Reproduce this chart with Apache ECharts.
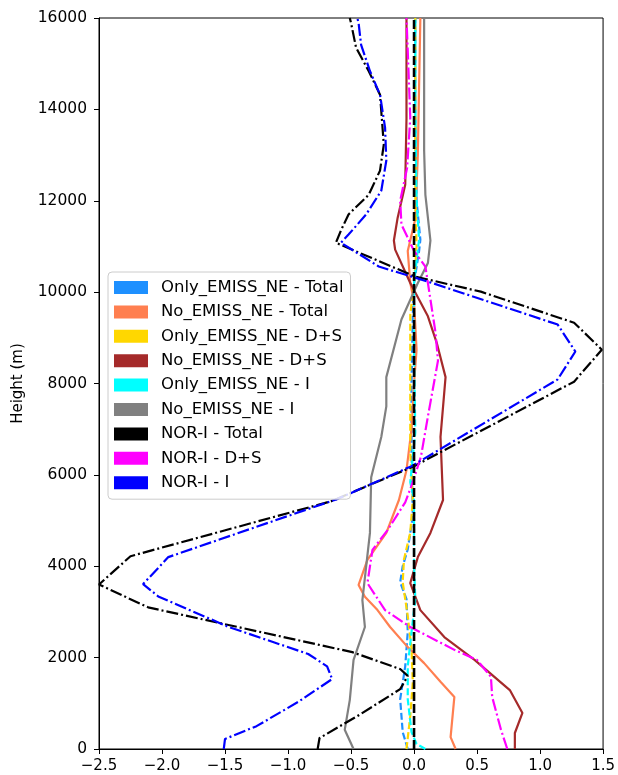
<!DOCTYPE html>
<html>
<head>
<meta charset="utf-8">
<script src="https://cdn.jsdelivr.net/npm/echarts@6/dist/echarts.min.js"></script>
<style>
  html, body { margin: 0; padding: 0; background: #fff; }
  #chart { width: 618px; height: 775px; }
</style>
</head>
<body>
<div id="chart"></div>
<script>
// ---- Data (x = value, h = height in m) ----
const xTicks = [-2.5, -2.0, -1.5, -1.0, -0.5, 0.0, 0.5, 1.0, 1.5];
const yTicks = [0, 2000, 4000, 6000, 8000, 10000, 12000, 14000, 16000];

const onlyTotalH = [0, 370, 1090, 1810, 2560, 3280, 3650, 4000, 4370, 5090, 6500, 8000, 9500, 10200, 10900, 11150, 12000, 14000, 16000];
const onlyTotalX = [-0.05, -0.09, -0.11, -0.07, -0.05, -0.06, -0.11, -0.09, -0.05, -0.01, -0.02, -0.02, -0.01, 0.0, 0.04, 0.05, 0.02, 0.01, 0.01];

const noTotalH = [0, 260, 1140, 1470, 1880, 2230, 2670, 3040, 3330, 3590, 4140, 4730, 5450, 6100, 7000, 8000, 8740, 9800, 10200, 10900, 11600, 13000, 14500, 16000];
const noTotalX = [0.33, 0.29, 0.32, 0.21, 0.08, -0.05, -0.19, -0.29, -0.39, -0.44, -0.37, -0.22, -0.12, -0.06, -0.02, 0.0, 0.02, 0.0, -0.03, -0.05, 0.01, 0.03, 0.04, 0.05];

const onlyDSH = [0, 720, 1460, 2190, 2910, 3650, 4150, 4740, 5450, 6500, 8000, 9500, 10200, 11000, 12000, 14000, 16000];
const onlyDSX = [-0.06, -0.03, -0.01, -0.02, -0.05, -0.09, -0.08, -0.03, -0.01, -0.03, -0.03, -0.03, 0.0, 0.02, 0.01, 0.01, 0.01];

const noDSH = [0, 350, 790, 1290, 1950, 2450, 3040, 3630, 4200, 4730, 5450, 6830, 8140, 8890, 9470, 10200, 10930, 11130, 11630, 12350, 13800, 16000];
const noDSX = [0.80, 0.80, 0.86, 0.76, 0.48, 0.24, 0.05, -0.03, 0.03, 0.13, 0.23, 0.21, 0.25, 0.18, 0.11, -0.03, -0.15, -0.16, -0.13, -0.07, -0.06, -0.06];

const onlyIH = [0, 110, 370, 1090, 1810, 2560, 3280, 4000, 5450, 5840, 6930, 8740, 10200, 10930, 11150, 12020, 14000, 16000];
const onlyIX = [0.09, 0.02, -0.02, -0.05, -0.05, -0.02, 0.01, 0.0, 0.0, -0.03, 0.01, 0.0, 0.0, 0.03, 0.04, 0.02, 0.01, 0.01];

const noIH = [0, 420, 1070, 1950, 2670, 3260, 4730, 5950, 6830, 7500, 8140, 9400, 10200, 10640, 11130, 12130, 13100, 16000];
const noIX = [-0.48, -0.55, -0.51, -0.48, -0.39, -0.41, -0.35, -0.34, -0.26, -0.22, -0.22, -0.10, 0.03, 0.11, 0.13, 0.09, 0.08, 0.08];

const norTotalH = [0, 240, 720, 1310, 1600, 1750, 2120, 3100, 3600, 4220, 5420, 6190, 8040, 8740, 9330, 10010, 10340, 11080, 11350, 11700, 12130, 12660, 13230, 14320, 14840, 15350, 15890, 16000];
const norTotalX = [-0.765, -0.75, -0.45, -0.11, -0.05, -0.11, -0.49, -2.11, -2.50, -2.25, -0.66, 0.0, 1.27, 1.49, 1.27, 0.53, 0.01, -0.62, -0.58, -0.52, -0.36, -0.27, -0.24, -0.27, -0.36, -0.46, -0.50, -0.51];

const norDSH = [0, 420, 1140, 1580, 1950, 2170, 2670, 3040, 3630, 4360, 4790, 5400, 5840, 6400, 7280, 8500, 9120, 9840, 10560, 10900, 11480, 12000, 12720, 13820, 15280, 16000];
const norDSX = [0.74, 0.69, 0.62, 0.61, 0.50, 0.32, -0.03, -0.23, -0.37, -0.33, -0.21, -0.07, -0.01, 0.055, 0.11, 0.19, 0.17, 0.13, 0.09, 0.0, -0.10, -0.11, -0.055, -0.03, -0.05, -0.06];

const norIH = [0, 220, 500, 1030, 1530, 1810, 2080, 2670, 3340, 3610, 4200, 5470, 6190, 8090, 8700, 9290, 10230, 10560, 11080, 11260, 11700, 12220, 12880, 13600, 14320, 14840, 15410, 15890, 16000];
const norIX = [-1.51, -1.50, -1.25, -0.92, -0.65, -0.69, -0.84, -1.47, -2.03, -2.15, -1.95, -0.61, -0.02, 1.14, 1.28, 1.14, 0.11, -0.28, -0.58, -0.52, -0.38, -0.26, -0.22, -0.23, -0.27, -0.35, -0.42, -0.44, -0.45];

const zeroLineH = [0, 16000];
const zeroLineX = [0, 0];

const names = [
  'Only_EMISS_NE - Total', 'No_EMISS_NE - Total', 'Only_EMISS_NE - D+S', 'No_EMISS_NE - D+S',
  'Only_EMISS_NE - I', 'No_EMISS_NE - I', 'NOR-I - Total', 'NOR-I - D+S', 'NOR-I - I'
];

// ---- Build ----
const pair = (xs, hs) => xs.map((v, i) => [v, hs[i]]);
const DASH = [7, 3];
const DASHDOT = [12, 3, 2, 3];
const specs = [
  [names[0], '#1e90ff', DASH, onlyTotalX, onlyTotalH],
  [names[1], '#ff7f50', 'solid', noTotalX, noTotalH],
  [names[2], '#ffd700', DASH, onlyDSX, onlyDSH],
  [names[3], '#a52a2a', 'solid', noDSX, noDSH],
  [names[4], '#00ffff', DASH, onlyIX, onlyIH],
  [names[5], '#808080', 'solid', noIX, noIH],
  [names[6], '#000000', DASHDOT, norTotalX, norTotalH],
  [names[7], '#ff00ff', DASHDOT, norDSX, norDSH],
  [names[8], '#0000ff', DASHDOT, norIX, norIH]
];

const series = specs.map(([name, color, type, xs, hs]) => ({
  name, type: 'line', data: pair(xs, hs), showSymbol: false, symbol: 'none',
  itemStyle: { color }, lineStyle: { color, width: 2.2, type }, animation: false
}));
series.push({
  name: 'zero', type: 'line', data: pair(zeroLineX, zeroLineH), showSymbol: false, symbol: 'none',
  itemStyle: { color: '#000' }, lineStyle: { color: '#000', width: 2.6, type: [9, 3] }, animation: false, z: 5
});

const font = 'DejaVu Sans';
const chart = echarts.init(document.getElementById('chart'), null, { renderer: 'canvas' });
chart.setOption({
  backgroundColor: '#fff',
  animation: false,
  grid: { left: 99, right: 13, top: 18, bottom: 26, show: true, borderColor: '#000', borderWidth: 1, backgroundColor: 'transparent' },
  legend: {
    data: names, orient: 'vertical', left: 108, top: 272,
    icon: 'rect', itemWidth: 34, itemHeight: 13, itemGap: 5.4,
    padding: [6, 7, 7, 6],
    backgroundColor: 'rgba(255,255,255,0.85)', borderColor: '#cccccc', borderWidth: 1, borderRadius: 4,
    itemStyle: { borderWidth: 0 },
    textStyle: { fontFamily: font, fontSize: 16.5, lineHeight: 19, color: '#000', padding: [0, 0, 0, 8] }
  },
  xAxis: {
    type: 'value', min: xTicks[0], max: xTicks[xTicks.length - 1], interval: 0.5,
    axisLine: { show: true, onZero: false, lineStyle: { color: '#000', width: 1 } },
    axisTick: { show: true, length: 5, lineStyle: { color: '#000' } },
    splitLine: { show: false },
    axisLabel: { fontFamily: font, fontSize: 15, color: '#000', margin: 10,
      formatter: v => (v < 0 ? '\u2212' : '') + Math.abs(v).toFixed(1) }
  },
  yAxis: {
    type: 'value', min: yTicks[0], max: yTicks[yTicks.length - 1], interval: 2000,
    name: 'Height (m)', nameLocation: 'middle', nameGap: 73,
    nameTextStyle: { fontFamily: font, fontSize: 15, color: '#000' },
    axisLine: { show: true, onZero: false, lineStyle: { color: '#000', width: 1 } },
    axisTick: { show: true, length: 5, lineStyle: { color: '#000' } },
    splitLine: { show: false },
    axisLabel: { fontFamily: font, fontSize: 15.5, color: '#000', margin: 12,
      formatter: v => String(Math.round(v)) }
  },
  series
});
</script>
</body>
</html>
